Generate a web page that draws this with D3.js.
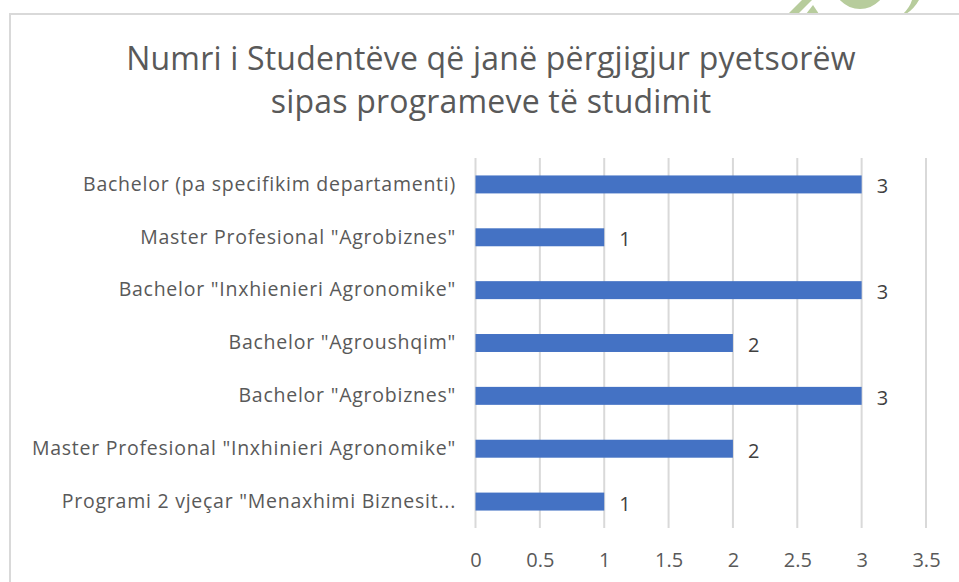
<!DOCTYPE html>
<html>
<head>
<meta charset="utf-8">
<script src="https://cdn.jsdelivr.net/npm/d3@7"></script>
<style>
  body { margin: 0; background: #fff; }
  svg { display: block; font-family: "Open Sans", sans-serif; }
</style>
</head>
<body>
<div id="main"></div>
<script>
// data, top to bottom as shown
const categories = [
    'Bachelor (pa specifikim departamenti)',
    'Master Profesional "Agrobiznes"',
    'Bachelor "Inxhienieri Agronomike"',
    'Bachelor "Agroushqim"',
    'Bachelor "Agrobiznes"',
    'Master Profesional "Inxhinieri Agronomike"',
    'Programi 2 vjeçar "Menaxhimi Biznesit...'
];
const values = [3, 1, 3, 2, 3, 2, 1];
const tickValues = [0, 0.5, 1, 1.5, 2, 2.5, 3, 3.5];
const titleLines = [
    "Numri i Studentëve që janë përgjigjur pyetsorëw",
    "sipas programeve të studimit"
];

const ctx = {
    w: 959,
    h: 582,
    BAR_COLOR: "#4472c4",
    GRID_COLOR: "#d9d9d9",
    TEXT_COLOR: "#595959",
};

const svg = d3.select("#main").append("svg")
    .attr("width", ctx.w)
    .attr("height", ctx.h);

// little green logo peeking over the top edge
const logo = svg.append("g").attr("fill", "#b7cc9c");
logo.append("path").attr("d", "M788,14 L802,0 L812,0 L798,14 Z");
logo.append("path").attr("d", "M806,14 L813,5 L819,14 Z");
logo.append("circle").attr("cx", 860).attr("cy", -18).attr("r", 27);
logo.append("path").attr("d", "M912,0 L919,0 Q914,9 906,14 L903,14 Q910,7 912,0 Z");

// chart frame
svg.append("rect")
    .attr("x", 10).attr("y", 14)
    .attr("width", 960).attr("height", 600)
    .attr("fill", "#fff")
    .attr("stroke", ctx.GRID_COLOR)
    .attr("stroke-width", 2);

// title
svg.append("g").selectAll("text")
    .data(titleLines)
    .enter()
    .append("text")
    .attr("x", 491)
    .attr("y", (d, i) => 70 + i * 43)
    .attr("text-anchor", "middle")
    .attr("fill", ctx.TEXT_COLOR)
    .attr("font-size", 32)
    .attr("letter-spacing", 0.2)
    .text(d => d);

const x = d3.scaleLinear().domain([0, 3.5]).range([475.5, 926]);
const y = d3.scaleBand().domain(categories).range([158, 528])
    .paddingInner(0.66).paddingOuter(0.33);

// gridlines
svg.append("g").attr("id", "grid")
    .selectAll("line")
    .data(tickValues)
    .enter()
    .append("line")
    .attr("x1", d => x(d)).attr("x2", d => x(d))
    .attr("y1", 158).attr("y2", 528)
    .attr("stroke", ctx.GRID_COLOR)
    .attr("stroke-width", 2);

// x axis labels
const xAxis = svg.append("g")
    .attr("transform", "translate(0,528)")
    .call(d3.axisBottom(x).tickValues(tickValues).tickSize(0).tickPadding(25)
        .tickFormat(d3.format("")));
xAxis.select(".domain").remove();
xAxis.selectAll("text")
    .attr("font-family", "Open Sans, sans-serif")
    .attr("font-size", 20)
    .attr("fill", ctx.TEXT_COLOR);

// y axis labels
const yAxis = svg.append("g")
    .attr("transform", "translate(456,0)")
    .call(d3.axisLeft(y).tickSize(0).tickPadding(0));
yAxis.select(".domain").remove();
yAxis.selectAll("text")
    .attr("font-family", "Open Sans, sans-serif")
    .attr("font-size", 19.5)
    .attr("letter-spacing", 0.75)
    .attr("fill", ctx.TEXT_COLOR);

const rows = categories.map((c, i) => ({cat: c, val: values[i]}));

// bars
svg.append("g").attr("id", "bars")
    .selectAll("rect")
    .data(rows)
    .enter()
    .append("rect")
    .attr("x", x(0))
    .attr("y", d => y(d.cat))
    .attr("width", d => x(d.val) - x(0))
    .attr("height", y.bandwidth())
    .attr("fill", ctx.BAR_COLOR);

// value labels
svg.append("g").attr("id", "labels")
    .selectAll("text")
    .data(rows)
    .enter()
    .append("text")
    .attr("x", d => x(d.val) + 15)
    .attr("y", d => y(d.cat) + y.bandwidth() / 2 + 2)
    .attr("dy", "0.35em")
    .attr("font-size", 20)
    .attr("fill", "#404040")
    .text(d => d.val);
</script>
</body>
</html>
